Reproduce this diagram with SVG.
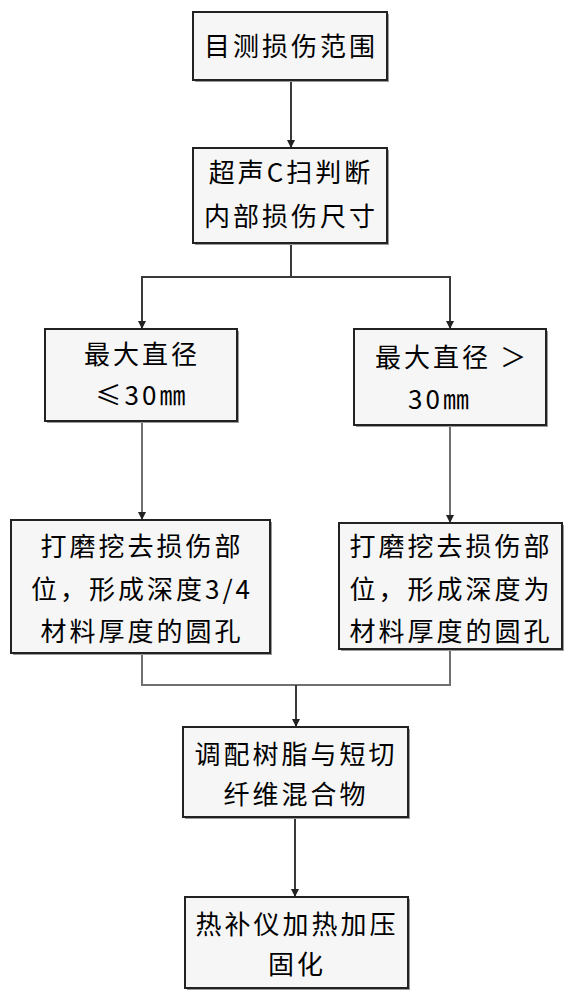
<svg xmlns="http://www.w3.org/2000/svg" width="573" height="1000" viewBox="0 0 573 1000">
<style>
.box{fill:#f6f6f6;stroke:#222;stroke-width:2}
.sh{fill:#9a9a9a}
.t{font-family:"Noto Sans CJK SC","Noto Sans",sans-serif;font-size:26px;fill:#000;text-anchor:middle;letter-spacing:3px}
.c{fill:none;stroke:#3a3a3a;stroke-width:2}
.g{fill:none;stroke:#707070;stroke-width:2}
</style>
<defs>
<marker id="ah" markerWidth="8" markerHeight="8" refX="7" refY="4" orient="auto" markerUnits="userSpaceOnUse">
<path d="M0,0 L8,4 L0,8 Z" fill="#222"/>
</marker>
</defs>
<rect width="573" height="1000" fill="#fff"/>
<g id="connectors">
<path class="c" d="M291,80 V147" marker-end="url(#ah)"/>
<path class="c" d="M291,243 V277 H142 V328" marker-end="url(#ah)"/>
<path class="c" d="M291,277 H450 V328" marker-end="url(#ah)"/>
<path class="g" d="M142,421 V519" marker-end="url(#ah)"/>
<path class="g" d="M450,425 V522" marker-end="url(#ah)"/>
<path class="g" d="M142,653 V685 H450 V649"/>
<path class="c" d="M296,685 V726" marker-end="url(#ah)"/>
<path class="c" d="M295,817 V896" marker-end="url(#ah)"/>
</g>
<g id="n1">
<rect class="sh" x="195" y="14" width="194" height="68"/>
<rect class="box" x="193" y="12" width="194" height="68"/>
<text class="t" x="291" y="56">目测损伤范围</text>
</g>
<g id="n2">
<rect class="sh" x="195" y="150" width="194" height="95"/>
<rect class="box" x="193" y="148" width="194" height="95"/>
<text class="t" x="291" y="182">超声C扫判断</text>
<text class="t" x="291" y="226">内部损伤尺寸</text>
</g>
<g id="n3">
<rect class="sh" x="47" y="331" width="192" height="92"/>
<rect class="box" x="45" y="329" width="192" height="92"/>
<text class="t" x="142" y="364">最大直径</text>
<text class="t" x="142" y="405">≤30㎜</text>
</g>
<g id="n4">
<rect class="sh" x="356" y="331" width="192" height="96"/>
<rect class="box" x="354" y="329" width="192" height="96"/>
<text class="t" x="452" y="367">最大直径 ＞</text>
<text class="t" x="440" y="409">30㎜</text>
</g>
<g id="n5">
<rect class="sh" x="13" y="522" width="259" height="133"/>
<rect class="box" x="11" y="520" width="259" height="133"/>
<text class="t" x="142" y="556">打磨挖去损伤部</text>
<text class="t" x="142" y="599">位，形成深度3/4</text>
<text class="t" x="142" y="641">材料厚度的圆孔</text>
</g>
<g id="n6">
<rect class="sh" x="341" y="525" width="223" height="126"/>
<rect class="box" x="339" y="523" width="223" height="126"/>
<text class="t" x="451" y="556">打磨挖去损伤部</text>
<text class="t" x="451" y="599">位，形成深度为</text>
<text class="t" x="451" y="641">材料厚度的圆孔</text>
</g>
<g id="n7">
<rect class="sh" x="185" y="729" width="225" height="90"/>
<rect class="box" x="183" y="727" width="225" height="90"/>
<text class="t" x="296" y="764">调配树脂与短切</text>
<text class="t" x="296" y="804">纤维混合物</text>
</g>
<g id="n8">
<rect class="sh" x="187" y="899" width="223" height="91"/>
<rect class="box" x="185" y="897" width="223" height="91"/>
<text class="t" x="297" y="934">热补仪加热加压</text>
<text class="t" x="297" y="974">固化</text>
</g>
</svg>
